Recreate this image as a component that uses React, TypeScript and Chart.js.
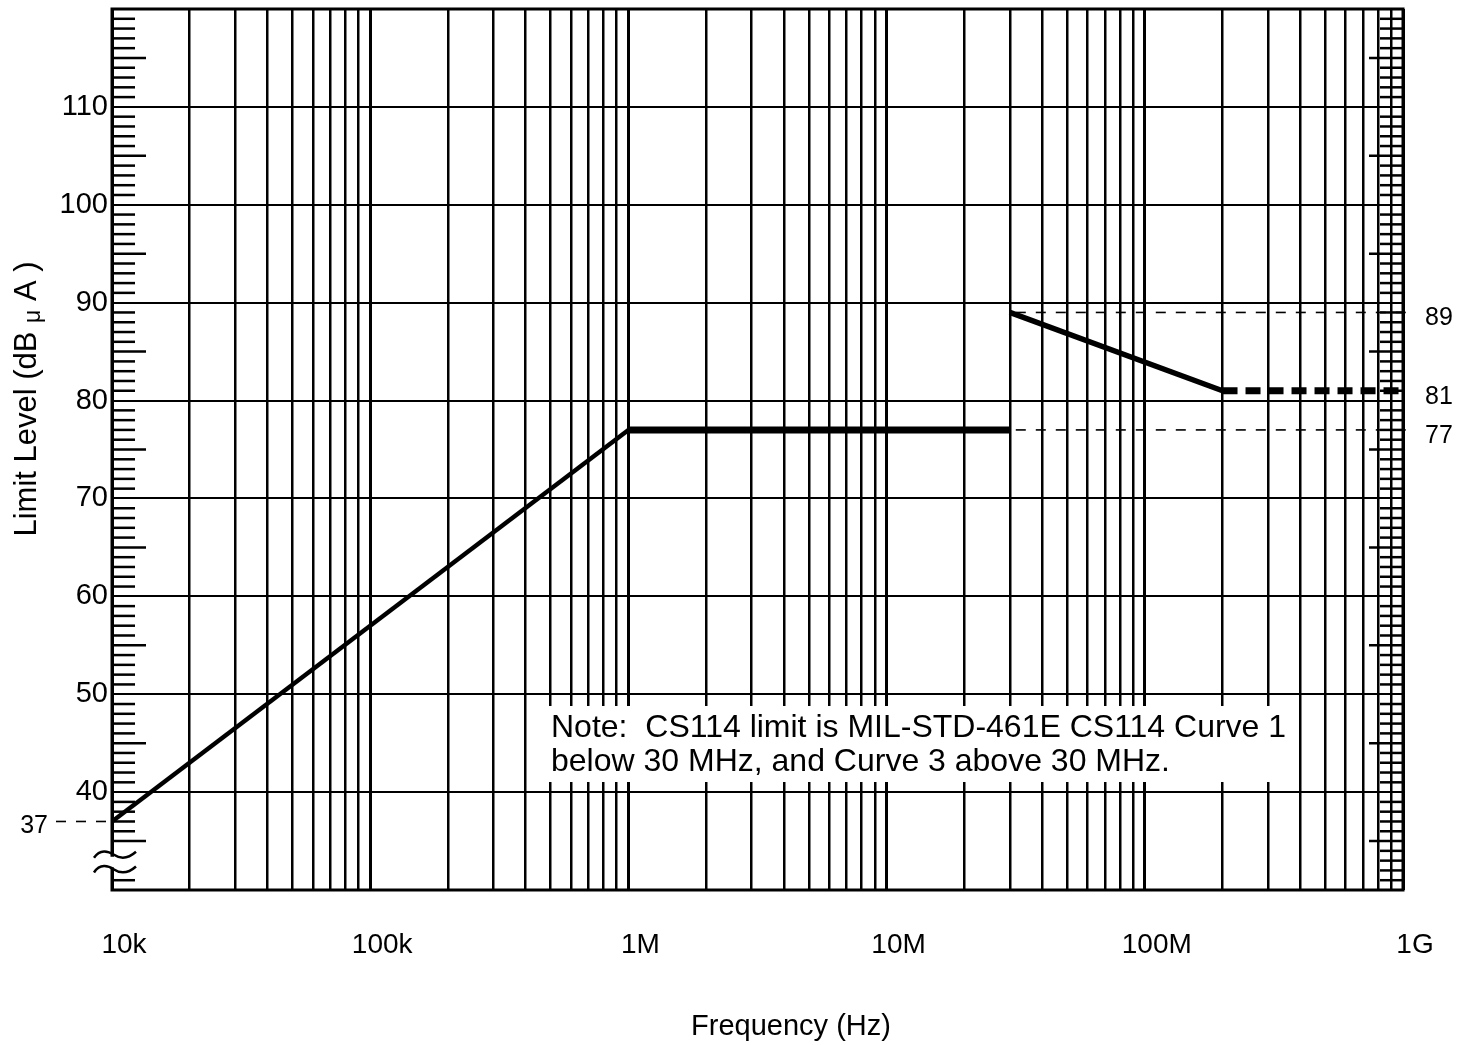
import React, { useEffect, useRef } from 'react';
import { Chart, registerables } from 'chart.js';

Chart.register(...registerables);

const FONT = '"Liberation Sans", Arial, Helvetica, sans-serif';

// Curve 1 (below 30 MHz)
const freqRise = [1e4, 1e6];
const levelRise = [37, 77];
const freqFlat = [1e6, 3e7];
const levelFlat = [77, 77];
// Curve 3 (above 30 MHz)
const freqFall = [3e7, 2e8];
const levelFall = [89, 81];
const freqHigh = [2e8, 1e9];
const levelHigh = [81, 81];

// Reference levels
const rightRefLevels = [89, 81, 77];
const rightRefStart = 3e7;
const leftRefLevel = 37;

// Axis
const xDecades = [1e4, 1e5, 1e6, 1e7, 1e8, 1e9];
const xDecadeLabels = ['10k', '100k', '1M', '10M', '100M', '1G'];
const yMin = 30;
const yMax = 120;
const yLabelValues = [40, 50, 60, 70, 80, 90, 100, 110];

const noteLines = [
  'Note:  CS114 limit is MIL-STD-461E CS114 Curve 1',
  'below 30 MHz, and Curve 3 above 30 MHz.',
];

function pts(xs: number[], ys: number[]) {
  return xs.map((x, i) => ({ x, y: ys[i] }));
}

export default function App() {
  const ref = useRef<HTMLCanvasElement>(null);

  useEffect(() => {
    const canvas = ref.current!;
    const xTicks: number[] = [];
    for (let d = 0; d < xDecades.length - 1; d++) {
      for (let m = 1; m <= 9; m++) xTicks.push(xDecades[d] * m);
    }
    xTicks.push(xDecades[xDecades.length - 1]);
    const yTicks: number[] = [];
    for (let v = yMin; v <= yMax; v++) yTicks.push(v);

    const isDecade = (v: number) => {
      const l = Math.log10(v);
      return Math.abs(l - Math.round(l)) < 1e-6;
    };

    const decorations = {
      id: 'decorations',
      beforeDatasetsDraw(chart: any) {
        const ctx = chart.ctx;
        ctx.save();
        // note box
        ctx.fillStyle = '#fff';
        ctx.fillRect(545, 706, 752, 76);
        ctx.fillStyle = '#000';
        ctx.font = `32px ${FONT}`;
        ctx.textBaseline = 'middle';
        ctx.textAlign = 'left';
        ctx.fillText(noteLines[0], 551, 728);
        ctx.fillText(noteLines[1], 551, 762);
        ctx.restore();
      },
      afterDraw(chart: any) {
        const ctx = chart.ctx;
        const { left, right, top, bottom } = chart.chartArea;
        const xs = chart.scales.x;
        const ys = chart.scales.y;
        ctx.save();
        ctx.strokeStyle = '#000';
        ctx.fillStyle = '#000';
        // frame
        ctx.lineWidth = 3;
        ctx.strokeRect(left, top, right - left, bottom - top);
        // minor ticks
        ctx.lineWidth = 2.5;
        for (let v = yMin + 1; v < yMax; v++) {
          if (v % 10 === 0) continue;
          const y = ys.getPixelForValue(v);
          const len = v % 5 === 0 ? 34 : 23;
          if (!(v >= 32 && v <= 34)) {
            ctx.beginPath();
            ctx.moveTo(left, y);
            ctx.lineTo(left + len, y);
            ctx.stroke();
          }
          ctx.beginPath();
          ctx.moveTo(right, y);
          ctx.lineTo(right - len, y);
          ctx.stroke();
        }
        // axis break squiggles
        const by1 = ys.getPixelForValue(33.6);
        const by2 = ys.getPixelForValue(32.1);
        ctx.fillStyle = '#fff';
        ctx.fillRect(left - 4, by1 + 2, 40, by2 - by1 - 4);
        ctx.fillStyle = '#000';
        ctx.lineWidth = 2.5;
        for (const by of [by1, by2]) {
          ctx.beginPath();
          ctx.moveTo(left - 18, by + 3);
          ctx.bezierCurveTo(left - 12, by - 6, left - 4, by - 4, left + 2, by);
          ctx.bezierCurveTo(left + 8, by + 4, left + 16, by + 4, left + 24, by - 3);
          ctx.stroke();
        }
        // dashed reference lines (right)
        ctx.lineWidth = 1.6;
        ctx.setLineDash([10, 10]);
        const xStart = xs.getPixelForValue(rightRefStart) + 6;
        for (const lv of rightRefLevels) {
          if (lv === 81) continue;
          const y = ys.getPixelForValue(lv);
          ctx.beginPath();
          ctx.moveTo(xStart, y);
          ctx.lineTo(right + 8, y);
          ctx.stroke();
        }
        // left reference 37
        const y37 = ys.getPixelForValue(leftRefLevel);
        ctx.beginPath();
        ctx.moveTo(left - 56, y37);
        ctx.lineTo(left, y37);
        ctx.stroke();
        ctx.setLineDash([]);
        // labels
        ctx.font = `25px ${FONT}`;
        ctx.textBaseline = 'middle';
        ctx.textAlign = 'left';
        for (const lv of rightRefLevels) {
          ctx.fillText(String(lv), right + 22, ys.getPixelForValue(lv) + 6);
        }
        ctx.textAlign = 'right';
        ctx.fillText(String(leftRefLevel), left - 64, y37 + 5);
        // axis titles
        ctx.font = `29px ${FONT}`;
        ctx.textAlign = 'center';
        ctx.textBaseline = 'middle';
        ctx.fillText('Frequency (Hz)', 791, 1027);
        // y title rotated with subscript mu
        ctx.translate(27, 399);
        ctx.rotate(-Math.PI / 2);
        const p1 = 'Limit Level (dB';
        const p2 = 'μ';
        const p3 = ' A )';
        ctx.font = `31px ${FONT}`;
        const w1 = ctx.measureText(p1 + ' ').width;
        const w3 = ctx.measureText(p3).width;
        ctx.font = `23px ${FONT}`;
        const w2 = ctx.measureText(p2).width;
        const total = w1 + w2 + w3;
        let cx = -total / 2;
        ctx.textAlign = 'left';
        ctx.font = `31px ${FONT}`;
        ctx.fillText(p1, cx, 0);
        cx += w1;
        ctx.font = `23px ${FONT}`;
        ctx.fillText(p2, cx, 7);
        cx += w2;
        ctx.font = `31px ${FONT}`;
        ctx.fillText(p3, cx, 0);
        ctx.restore();
      },
    };

    const chart = new Chart(canvas, {
      type: 'line',
      data: {
        datasets: [
          {
            data: pts(freqRise, levelRise),
            borderColor: '#000',
            borderWidth: 4.5,
            pointRadius: 0,
            tension: 0,
          },
          {
            data: pts(freqFlat, levelFlat),
            borderColor: '#000',
            borderWidth: 7,
            pointRadius: 0,
            borderCapStyle: 'butt',
          },
          {
            data: pts(freqFall, levelFall),
            borderColor: '#000',
            borderWidth: 5.5,
            pointRadius: 0,
          },
          {
            data: pts(freqHigh, levelHigh),
            borderColor: '#000',
            borderWidth: 7,
            borderDash: [15, 8],
            pointRadius: 0,
          },
        ],
      },
      options: {
        responsive: false,
        animation: false,
        devicePixelRatio: 1,
        layout: { padding: { left: 0, right: 60, top: 9, bottom: 0 } },
        plugins: {
          legend: { display: false },
          tooltip: { enabled: false },
        },
        scales: {
          x: {
            type: 'logarithmic',
            min: xDecades[0],
            max: xDecades[xDecades.length - 1],
            afterBuildTicks: (s: any) => {
              s.ticks = xTicks.map((v) => ({ value: v, major: isDecade(v) }));
            },
            afterFit: (s: any) => {
              s.height = 155;
              s.paddingLeft = 0;
              s.paddingRight = 0;
            },
            border: { display: false },
            grid: {
              color: '#000',
              lineWidth: (c: any) => (c.tick && isDecade(c.tick.value) ? 3 : 2.5),
              drawTicks: false,
            },
            ticks: {
              autoSkip: false,
              maxRotation: 0,
              minRotation: 0,
              padding: 38,
              labelOffset: 12,
              color: '#000',
              font: { family: FONT, size: 28 },
              callback: (v: any) => {
                const i = xDecades.findIndex((d) => Math.abs(d - Number(v)) / d < 1e-6);
                return i >= 0 ? xDecadeLabels[i] : '';
              },
            },
          },
          y: {
            type: 'linear',
            min: yMin,
            max: yMax,
            afterBuildTicks: (s: any) => {
              s.ticks = yTicks.map((v) => ({ value: v }));
            },
            afterFit: (s: any) => {
              s.width = 112;
              s.paddingTop = 0;
              s.paddingBottom = 0;
            },
            border: { display: false },
            grid: {
              color: (c: any) =>
                c.tick && c.tick.value % 10 === 0 ? '#000' : 'rgba(0,0,0,0)',
              lineWidth: 2,
              drawTicks: false,
            },
            ticks: {
              autoSkip: false,
              padding: 4,
              color: '#000',
              font: { family: FONT, size: 29 },
              callback: (v: any) =>
                yLabelValues.includes(Number(v)) ? String(v) : '',
            },
          },
        },
      },
      plugins: [decorations],
    } as any);

    return () => chart.destroy();
  }, []);

  return (
    <div
      style={{
        position: 'absolute',
        left: 0,
        top: 0,
        width: 1463,
        height: 1045,
        background: '#fff',
      }}
    >
      <canvas ref={ref} width={1463} height={1045} style={{ width: 1463, height: 1045 }} />
    </div>
  );
}
